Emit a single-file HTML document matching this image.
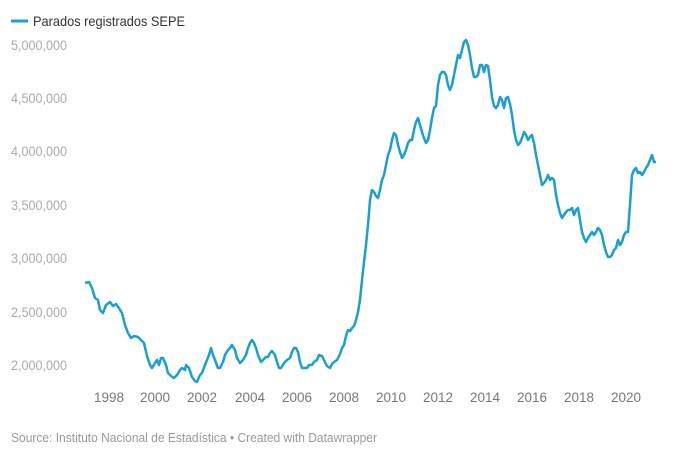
<!DOCTYPE html>
<html><head><meta charset="utf-8"><style>
body{margin:0;background:#fff;width:680px;height:461px;overflow:hidden;font-family:"Liberation Sans",Arial,sans-serif}
</style></head><body>
<svg width="680" height="461" xmlns="http://www.w3.org/2000/svg" font-family="Liberation Sans, Arial, sans-serif">
<line x1="11" y1="21" x2="28" y2="21" stroke="#1a9fd0" stroke-width="3"/>
<text x="33" y="26" font-size="14" fill="#333" textLength="152" lengthAdjust="spacingAndGlyphs">Parados registrados SEPE</text>
<g font-size="13.5" fill="#aaa">
<text x="11" y="50" textLength="56" lengthAdjust="spacingAndGlyphs">5,000,000</text>
<text x="11" y="103" textLength="56" lengthAdjust="spacingAndGlyphs">4,500,000</text>
<text x="11" y="156" textLength="56" lengthAdjust="spacingAndGlyphs">4,000,000</text>
<text x="11" y="210" textLength="56" lengthAdjust="spacingAndGlyphs">3,500,000</text>
<text x="11" y="263" textLength="56" lengthAdjust="spacingAndGlyphs">3,000,000</text>
<text x="11" y="317" textLength="56" lengthAdjust="spacingAndGlyphs">2,500,000</text>
<text x="11" y="370" textLength="56" lengthAdjust="spacingAndGlyphs">2,000,000</text>
</g>
<g font-size="13.5" fill="#777" text-anchor="middle">
<text x="109" y="402">1998</text><text x="155" y="402">2000</text><text x="202" y="402">2002</text>
<text x="250" y="402">2004</text><text x="297" y="402">2006</text><text x="344" y="402">2008</text>
<text x="391" y="402">2010</text><text x="438" y="402">2012</text><text x="485" y="402">2014</text>
<text x="532" y="402">2016</text><text x="579" y="402">2018</text><text x="626" y="402">2020</text>
</g>
<text x="11" y="442" font-size="12.5" fill="#999" textLength="366" lengthAdjust="spacingAndGlyphs">Source: Instituto Nacional de Estadística • Created with Datawrapper</text>
<polyline fill="none" stroke="#1a9fd0" stroke-width="2.5" stroke-linejoin="round" points="85,283 89,282 92,288 95,298 98,300 100,310 103,313 106,305 110,302 113,306 116,304 119,308 122,313 125,325 128,333 131,338 134,336 138,337 141,340 144,343 147,356 150,365 152,368 155,363 157,360 159,365 161,358 163,358 166,365 168,373 171,376 174,378 177,375 180,370 182,368 185,370 186,365 189,368 192,377 195,381 197,382 200,375 202,373 205,365 207,360 209,355 211,348 213,355 215,360 218,368 220,368 223,362 225,355 228,350 230,348 232,345 235,350 237,358 240,363 243,360 246,355 248,348 250,343 252,340 254,343 256,348 258,355 261,362 263,360 266,357 268,357 270,353 272,351 275,355 277,362 279,368 281,368 284,363 287,360 290,358 292,352 294,348 296,348 298,352 300,362 302,368 305,368 307,368 309,365 312,365 314,362 317,360 319,355 322,356 324,360 327,366 330,368 332,364 334,362 337,360 340,354 342,348 344,345 346,336 348,330 350,331 352,328 354,326 356,320 358,312 360,300 362,280 364,262 366,245 368,225 370,200 372,190 374,192 376,196 378,198 380,190 382,180 384,175 386,165 388,155 390,150 392,140 394,133 396,135 398,145 400,152 402,158 404,155 406,150 408,143 410,140 412,140 414,130 416,122 418,118 420,125 422,132 424,138 426,143 428,140 430,130 432,118 434,108 436,106 438,85 440,75 442,72 444,72 446,75 448,85 450,90 452,85 454,75 456,65 458,55 460,58 462,50 464,42 466,40 468,45 470,55 472,68 474,77 476,77 478,75 480,65 482,65 484,72 486,65 488,66 490,80 492,97 494,106 496,108 498,105 500,97 502,100 504,108 506,98 508,97 510,104 512,115 514,130 516,140 518,145 520,143 522,138 524,132 526,135 528,140 530,137 532,135 534,143 536,155 538,165 540,175 542,185 544,183 546,180 548,175 550,180 552,178 554,180 556,195 558,205 560,213 562,218 564,215 566,212 568,210 570,210 572,208 574,215 576,210 578,208 580,220 582,232 584,238 586,242 588,238 590,235 592,232 594,235 596,232 598,228 600,230 602,235 604,245 606,252 608,257 610,257 612,255 614,250 616,248 618,240 620,245 622,242 624,235 626,232 628,232 630,205 632,175 634,170 636,168 638,173 640,172 642,175 644,172 646,168 648,165 650,160 652,155 654,162 656,162"/>
</svg>
</body></html>
